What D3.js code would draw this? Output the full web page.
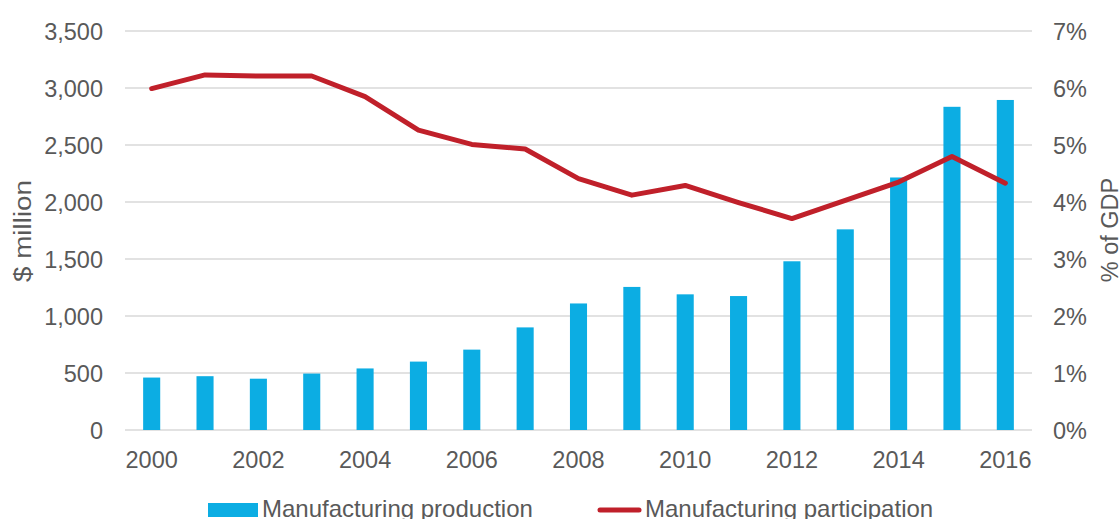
<!DOCTYPE html>
<html>
<head>
<meta charset="utf-8">
<script src="https://cdn.jsdelivr.net/npm/d3@7"></script>
<style>
  body { margin: 0; background: #fff; }
  text { font-family: "Liberation Sans", Arial, sans-serif; fill: #595959; }
</style>
</head>
<body>
<div id="chart"></div>
<script>
// chart data
const years = ["2000", "2001", "2002", "2003", "2004", "2005", "2006", "2007", "2008",
  "2009", "2010", "2011", "2012", "2013", "2014", "2015", "2016"];
const production = [460, 472, 450, 495, 540, 600, 705, 900, 1110,
  1255, 1190, 1175, 1480, 1760, 2215, 2835, 2895];
const participation = [5.99, 6.23, 6.21, 6.21, 5.85, 5.26, 5.01, 4.93, 4.41,
  4.12, 4.29, 3.99, 3.71, 4.03, 4.35, 4.80, 4.33];
const leftTicks = [0, 500, 1000, 1500, 2000, 2500, 3000, 3500];
const rightTicks = [0, 1, 2, 3, 4, 5, 6, 7];
const xLabels = ["2000", "2002", "2004", "2006", "2008", "2010", "2012", "2014", "2016"];

const width = 1119;
const height = 519;
const margin = { top: 31, right: 87, bottom: 90, left: 125 };

const svg = d3.select("#chart")
  .append("svg")
  .attr("width", width)
  .attr("height", height);

const x = d3.scaleBand()
  .domain(years)
  .range([margin.left, width - margin.right])
  .paddingInner(0.68)
  .paddingOuter(0.34);

const y = d3.scaleLinear()
  .domain([0, 3500])
  .range([height - margin.bottom + 1, margin.top]);

const y2 = d3.scaleLinear()
  .domain([0, 7])
  .range([height - margin.bottom + 1, margin.top]);

// gridlines
svg.append("g")
  .selectAll("line")
  .data(leftTicks)
  .enter()
  .append("line")
  .attr("x1", margin.left)
  .attr("x2", width - margin.right)
  .attr("y1", d => y(d))
  .attr("y2", d => y(d))
  .attr("stroke", "#d9d9d9")
  .attr("stroke-width", 1.5);

// left axis
const leftAxis = svg.append("g")
  .attr("transform", `translate(${margin.left - 22},0)`)
  .call(d3.axisLeft(y).tickValues(leftTicks).tickSize(0).tickFormat(d3.format(",")));
leftAxis.select(".domain").remove();
leftAxis.selectAll("text")
  .attr("x", 0)
  .attr("dy", "0.36em")
  .style("font-size", "23.5px")
  .style("font-family", "Liberation Sans, Arial, sans-serif")
  .attr("fill", "#595959");

// right axis
const rightAxis = svg.append("g")
  .attr("transform", `translate(${width - margin.right + 21},0)`)
  .call(d3.axisRight(y2).tickValues(rightTicks).tickSize(0).tickFormat(d => d + "%"));
rightAxis.select(".domain").remove();
rightAxis.selectAll("text")
  .attr("x", 0)
  .attr("dy", "0.36em")
  .style("font-size", "23.5px")
  .style("font-family", "Liberation Sans, Arial, sans-serif")
  .attr("fill", "#595959");

// bottom axis
const bottomAxis = svg.append("g")
  .attr("transform", `translate(0,${height - margin.bottom + 1})`)
  .call(d3.axisBottom(x).tickValues(xLabels).tickSize(0));
bottomAxis.select(".domain").remove();
bottomAxis.selectAll("text")
  .attr("y", 38)
  .attr("dy", 0)
  .style("font-size", "23.5px")
  .style("font-family", "Liberation Sans, Arial, sans-serif")
  .attr("fill", "#595959");

// bars
svg.selectAll(".bar")
  .data(years)
  .enter()
  .append("rect")
  .attr("class", "bar")
  .attr("x", d => x(d))
  .attr("y", (d, i) => y(production[i]))
  .attr("width", x.bandwidth())
  .attr("height", (d, i) => y(0) - y(production[i]))
  .attr("fill", "#0cade3");

// participation line
const line = d3.line()
  .x((d, i) => x(years[i]) + x.bandwidth() / 2)
  .y(d => y2(d));

svg.append("path")
  .datum(participation)
  .attr("d", line)
  .attr("fill", "none")
  .attr("stroke", "#c0202a")
  .attr("stroke-width", 5)
  .attr("stroke-linejoin", "round")
  .attr("stroke-linecap", "round");

// axis titles
svg.append("text")
  .attr("transform", "translate(31,231) rotate(-90)")
  .style("text-anchor", "middle")
  .style("font-size", "23px")
  .attr("textLength", 102)
  .attr("lengthAdjust", "spacingAndGlyphs")
  .text("$ million");

svg.append("text")
  .attr("transform", "translate(1118,230) rotate(-90)")
  .style("text-anchor", "middle")
  .style("font-size", "23.5px")
  .text("% of GDP");

// legend
const legend = svg.append("g");
legend.append("rect")
  .attr("x", 208)
  .attr("y", 503)
  .attr("width", 50)
  .attr("height", 14)
  .attr("fill", "#0cade3");
legend.append("text")
  .attr("x", 262)
  .attr("y", 517)
  .style("font-size", "24px")
  .text("Manufacturing production");
legend.append("line")
  .attr("x1", 600)
  .attr("x2", 639)
  .attr("y1", 510)
  .attr("y2", 510)
  .attr("stroke", "#c0202a")
  .attr("stroke-width", 5)
  .attr("stroke-linecap", "round");
legend.append("text")
  .attr("x", 645)
  .attr("y", 517)
  .style("font-size", "24px")
  .text("Manufacturing participation");
</script>
</body>
</html>
